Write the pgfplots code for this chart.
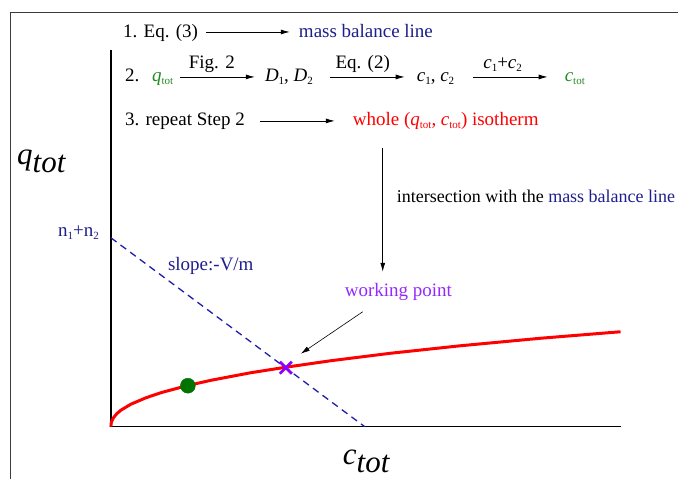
\documentclass[border=0pt]{standalone}
\usepackage{pgfplots}
\pgfplotsset{compat=1.18}
\usepackage{fontspec}
\setmainfont{Liberation Serif}
\usetikzlibrary{arrows.meta}
\definecolor{navy}{RGB}{30,30,140}
\definecolor{dblue}{RGB}{30,30,170}
\definecolor{fgreen}{RGB}{34,139,34}
\definecolor{dgreen}{RGB}{0,115,0}
\definecolor{violetx}{RGB}{140,0,255}
\definecolor{violett}{RGB}{150,40,255}
\definecolor{framegray}{RGB}{60,60,60}
\newcommand{\sub}[1]{\raisebox{-0.35ex}{\fontsize{11}{11}\selectfont #1}}
\newcommand{\bigfont}{\fontsize{19}{22}\selectfont}
\tikzset{txt/.style={anchor=base west, inner sep=0pt, font=\bigfont}, txtc/.style={anchor=base, inner sep=0pt, font=\bigfont}}
\begin{document}
\begin{tikzpicture}
\begin{axis}[
  width=678pt, height=479pt, scale only axis,
  xmin=-111, xmax=567, ymin=-52, ymax=427,
  hide axis, clip=false,
]
% bounding box
\path (axis cs:-111,-52) rectangle (axis cs:567,427);
% frame
\addplot[framegray, line width=1pt] coordinates {(-100,-52) (-100,414.3) (567,414.3)};
% axes
\addplot[black, line width=1.2pt] coordinates {(0,377) (0,0) (510,0)};
% mass balance line
\addplot[dblue, line width=1.3pt, dash pattern=on 7pt off 5pt] coordinates {(0,189) (254,0)};
% isotherm
\addplot[red, line width=3pt] coordinates {
(0,0) (0.2,2.8) (0.5,4.3) (1,5.8) (3,9.6) (6,13.1) (10,16.5) (20,22.5)
(35,28.9) (50,34) (76,41) (100,46.4) (140,54) (175,59.5) (220,66)
(280,73.5) (350,81) (430,88.5) (510,95)};
% green dot
\addplot[only marks, mark=*, mark size=7.5pt, mark options={fill=dgreen, draw=dgreen}] coordinates {(77,41)};
% working point
\addplot[only marks, mark=x, mark size=8.5pt, mark options={line width=2.8pt, draw=violetx}] coordinates {(175,59)};

% axis labels
\node[anchor=base west, inner sep=0pt, font=\fontsize{31}{31}\selectfont\itshape] at (axis cs:-94,262) {q\raisebox{-8pt}{tot}};
\node[anchor=base west, inner sep=0pt, font=\fontsize{31}{31}\selectfont\itshape] at (axis cs:232,-38) {c\raisebox{-8pt}{tot}};

% line 1
\node[txt] at (axis cs:12,389) {\bigfont 1. Eq. (3)};
\draw[-{Latex[length=9pt,width=5pt]}, line width=0.8pt] (axis cs:95,395) -- (axis cs:179,395);
\node[txt, text=navy] at (axis cs:188,389) {\bigfont mass balance line};

% line 2
\node[txt] at (axis cs:14,345) {\bigfont 2.};
\node[txt, text=fgreen] at (axis cs:41,345) {\bigfont\textit{q}\sub{tot}};
\draw[-{Latex[length=9pt,width=5pt]}, line width=0.8pt] (axis cs:69,350) -- (axis cs:144,350);
\node[txtc] at (axis cs:101,358) {\bigfont Fig. 2};
\node[txt] at (axis cs:154,345) {\bigfont\textit{D}\sub{1}, \textit{D}\sub{2}};
\draw[-{Latex[length=9pt,width=5pt]}, line width=0.8pt] (axis cs:219,350) -- (axis cs:294,350);
\node[txtc] at (axis cs:252,358) {\bigfont Eq. (2)};
\node[txt] at (axis cs:306,345) {\bigfont\textit{c}\sub{1}, \textit{c}\sub{2}};
\draw[-{Latex[length=9pt,width=5pt]}, line width=0.8pt] (axis cs:362,350) -- (axis cs:437,350);
\node[txtc] at (axis cs:392,358) {\bigfont\textit{c}\sub{1}+\textit{c}\sub{2}};
\node[txt, text=fgreen] at (axis cs:454,345) {\bigfont\textit{c}\sub{tot}};

% line 3
\node[txt] at (axis cs:14,301) {\bigfont 3. repeat Step 2};
\draw[-{Latex[length=9pt,width=5pt]}, line width=0.8pt] (axis cs:149,306) -- (axis cs:224,306);
\node[txt, text=red] at (axis cs:242,301) {\bigfont whole (\textit{q}\sub{tot}, \textit{c}\sub{tot}) isotherm};

% vertical arrow
\draw[-{Latex[length=9pt,width=5pt]}, line width=0.8pt] (axis cs:272,279) -- (axis cs:272,155);
\node[txt] at (axis cs:286,224) {\fontsize{18}{21}\selectfont intersection with the \textcolor{navy}{mass balance line}};

% working point
\node[txt, text=violett] at (axis cs:234,130) {\bigfont working point};
\draw[-{Latex[length=9pt,width=5pt]}, line width=0.6pt] (axis cs:252,115) -- (axis cs:190,73);

% slope and intercept labels
\node[txt, text=navy] at (axis cs:57,156) {\bigfont slope:-V/m};
\node[txt, text=navy] at (axis cs:-53,190) {\bigfont n\sub{1}+n\sub{2}};
\end{axis}
\end{tikzpicture}
\end{document}
